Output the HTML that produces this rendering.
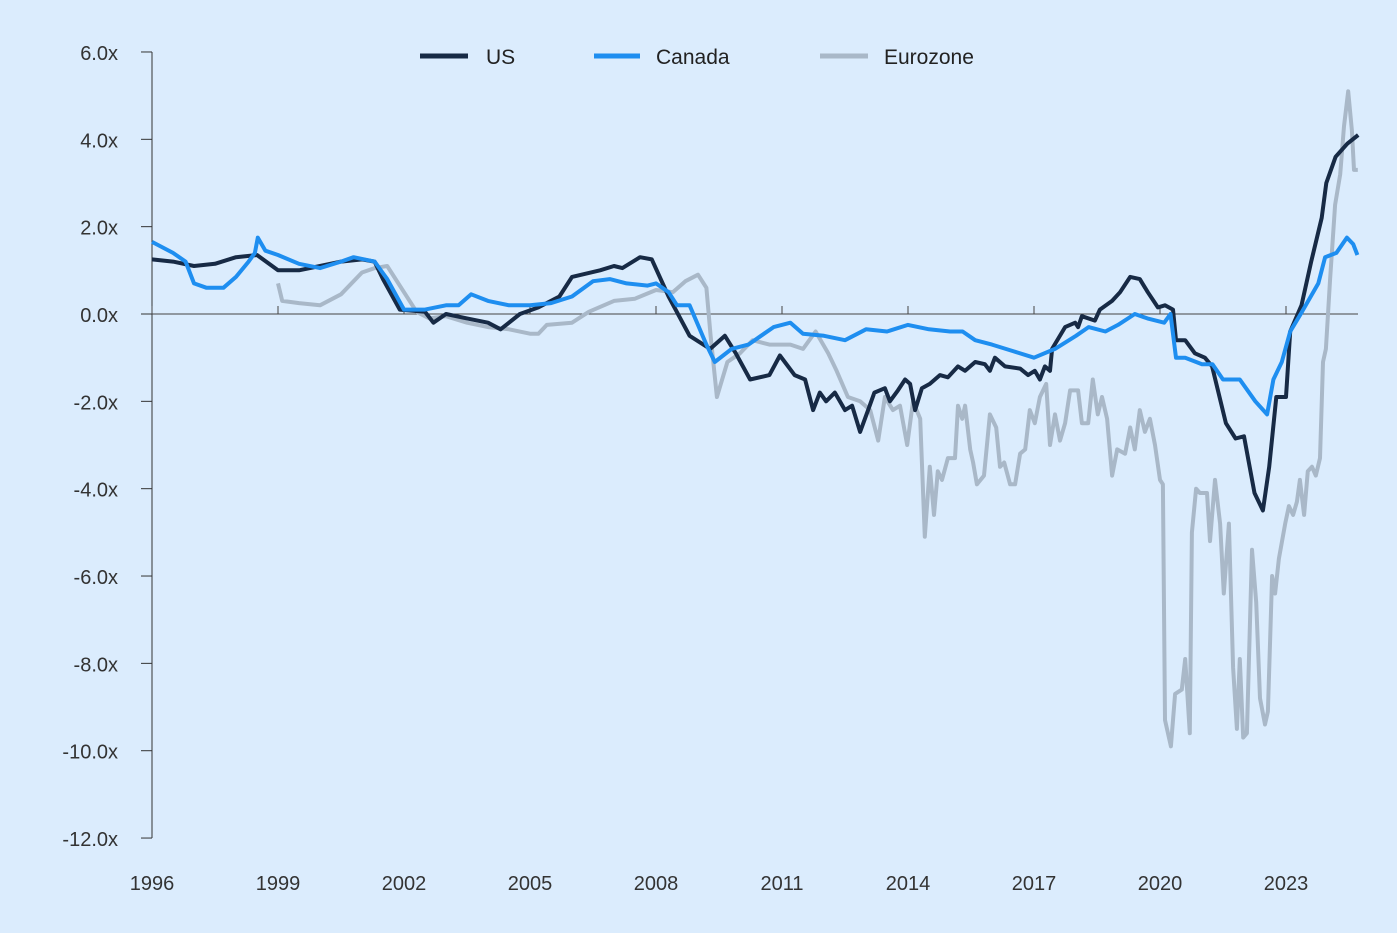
<!DOCTYPE html>
<html><head><meta charset="utf-8"><style>
body{margin:0;background:#dbecfd;}
svg{display:block;font-family:"Liberation Sans",sans-serif;}
</style></head><body>
<svg id="chart" width="1397" height="933" xmlns="http://www.w3.org/2000/svg">
<rect width="1397" height="933" fill="#dbecfd"/>
<g id="axes"></g><g id="series"></g>
<g>
<g><line x1="420" y1="56" x2="468" y2="56" stroke="#172a45" stroke-width="5"/><text x="486" y="64" font-size="21" fill="#222">US</text></g>
<g><line x1="594" y1="56" x2="640" y2="56" stroke="#1e8ef0" stroke-width="5"/><text x="656" y="64" font-size="21" fill="#222">Canada</text></g>
<g><line x1="820" y1="56" x2="868" y2="56" stroke="#a9b8c8" stroke-width="5"/><text x="884" y="64" font-size="21" fill="#222">Eurozone</text></g>
</g>
</svg>
<script>
const yTicks=[6,4,2,0,-2,-4,-6,-8,-10,-12];
const xTicks=[1996,1999,2002,2005,2008,2011,2014,2017,2020,2023];
const usYears=[1996,1996.5,1997,1997.5,1998,1998.5,1999,1999.5,2000,2000.5,2001,2001.3,2001.5,2001.9,2002.5,2002.7,2003,2003.5,2004,2004.3,2004.76,2005.2,2005.7,2006.0,2006.67,2007.0,2007.2,2007.62,2007.9,2008.3,2008.8,2009.29,2009.64,2009.9,2010.24,2010.7,2010.95,2011.3,2011.55,2011.74,2011.9,2012.05,2012.26,2012.5,2012.67,2012.86,2013.05,2013.2,2013.45,2013.57,2013.76,2013.93,2014.05,2014.17,2014.33,2014.52,2014.76,2014.95,2015.19,2015.36,2015.6,2015.83,2015.95,2016.07,2016.31,2016.67,2016.86,2017.02,2017.14,2017.26,2017.38,2017.43,2017.74,2017.98,2018.05,2018.14,2018.45,2018.57,2018.86,2019.05,2019.29,2019.52,2019.71,2019.95,2020.12,2020.31,2020.38,2020.6,2020.83,2021.07,2021.24,2021.57,2021.8,2022.0,2022.25,2022.45,2022.6,2022.77,2023.0,2023.1,2023.37,2023.6,2023.85,2023.96,2024.18,2024.46,2024.72];
const usValues=[1.25,1.2,1.1,1.15,1.3,1.35,1.0,1.0,1.1,1.2,1.25,1.2,0.8,0.1,0.05,-0.2,0.0,-0.1,-0.2,-0.35,0.0,0.15,0.4,0.85,1.0,1.1,1.05,1.3,1.25,0.4,-0.5,-0.8,-0.5,-0.9,-1.5,-1.4,-0.95,-1.4,-1.5,-2.2,-1.8,-2.0,-1.8,-2.2,-2.1,-2.7,-2.2,-1.8,-1.7,-2.0,-1.75,-1.5,-1.6,-2.2,-1.7,-1.6,-1.4,-1.45,-1.2,-1.3,-1.1,-1.15,-1.3,-1.0,-1.2,-1.25,-1.4,-1.3,-1.5,-1.2,-1.3,-0.8,-0.3,-0.2,-0.3,-0.05,-0.15,0.1,0.3,0.5,0.85,0.8,0.5,0.15,0.2,0.1,-0.6,-0.6,-0.9,-1.0,-1.2,-2.5,-2.85,-2.8,-4.1,-4.5,-3.5,-1.9,-1.9,-0.4,0.2,1.2,2.2,3.0,3.6,3.9,4.1];
const caYears=[1996,1996.5,1996.8,1997,1997.3,1997.7,1998,1998.3,1998.45,1998.52,1998.7,1999,1999.5,2000,2000.5,2000.8,2001.3,2001.6,2002,2002.5,2003,2003.3,2003.6,2004,2004.5,2005,2005.5,2006,2006.5,2006.9,2007.3,2007.8,2008,2008.3,2008.5,2008.8,2009.2,2009.4,2009.8,2010.2,2010.5,2010.8,2011.2,2011.5,2012,2012.5,2012.8,2013,2013.5,2014,2014.5,2015,2015.3,2015.6,2016,2016.5,2017,2017.5,2018,2018.3,2018.7,2019,2019.4,2019.7,2020.1,2020.25,2020.38,2020.6,2021.0,2021.25,2021.5,2021.9,2022.27,2022.55,2022.7,2022.9,2023.1,2023.35,2023.77,2023.93,2024.2,2024.45,2024.6,2024.7];
const caValues=[1.65,1.4,1.2,0.7,0.6,0.6,0.85,1.2,1.4,1.75,1.45,1.35,1.15,1.05,1.2,1.3,1.2,0.8,0.1,0.1,0.2,0.2,0.45,0.3,0.2,0.2,0.25,0.4,0.75,0.8,0.7,0.65,0.7,0.5,0.2,0.2,-0.7,-1.1,-0.8,-0.7,-0.5,-0.3,-0.2,-0.45,-0.5,-0.6,-0.45,-0.35,-0.4,-0.25,-0.35,-0.4,-0.4,-0.6,-0.7,-0.85,-1.0,-0.8,-0.5,-0.3,-0.4,-0.25,0.0,-0.1,-0.2,0.0,-1.0,-1.0,-1.15,-1.15,-1.5,-1.5,-2.0,-2.3,-1.5,-1.1,-0.4,0.0,0.7,1.3,1.4,1.75,1.6,1.35];
const euYears=[1999.0,1999.1,1999.5,2000,2000.5,2001,2001.3,2001.6,2002,2002.3,2002.6,2003,2003.5,2004,2004.5,2005,2005.2,2005.4,2006,2006.4,2007,2007.5,2008,2008.4,2008.7,2009,2009.2,2009.3,2009.45,2009.7,2010,2010.3,2010.7,2011.2,2011.5,2011.8,2012.1,2012.3,2012.57,2012.86,2013.10,2013.29,2013.45,2013.64,2013.81,2013.98,2014.12,2014.29,2014.40,2014.52,2014.62,2014.71,2014.81,2014.95,2015.12,2015.19,2015.29,2015.36,2015.48,2015.55,2015.64,2015.81,2015.95,2016.10,2016.19,2016.29,2016.43,2016.55,2016.67,2016.79,2016.90,2017.02,2017.14,2017.29,2017.38,2017.50,2017.62,2017.74,2017.86,2018.05,2018.14,2018.29,2018.40,2018.52,2018.62,2018.74,2018.86,2018.98,2019.17,2019.29,2019.40,2019.52,2019.64,2019.76,2019.88,2020.00,2020.07,2020.12,2020.26,2020.36,2020.52,2020.60,2020.71,2020.76,2020.86,2020.95,2021.12,2021.19,2021.31,2021.43,2021.52,2021.64,2021.74,2021.83,2021.90,2021.98,2022.07,2022.19,2022.29,2022.38,2022.50,2022.57,2022.67,2022.74,2022.83,2022.98,2023.07,2023.17,2023.26,2023.33,2023.43,2023.52,2023.62,2023.71,2023.81,2023.88,2023.95,2024.05,2024.17,2024.29,2024.38,2024.48,2024.57,2024.62,2024.71];
const euValues=[0.7,0.3,0.25,0.2,0.45,0.95,1.05,1.1,0.5,0.05,-0.1,-0.05,-0.2,-0.3,-0.35,-0.45,-0.45,-0.25,-0.2,0.05,0.3,0.35,0.55,0.5,0.75,0.9,0.6,-0.5,-1.9,-1.1,-0.9,-0.6,-0.7,-0.7,-0.8,-0.4,-0.9,-1.3,-1.9,-2.0,-2.2,-2.9,-1.9,-2.2,-2.1,-3.0,-2.0,-2.4,-5.1,-3.5,-4.6,-3.6,-3.8,-3.3,-3.3,-2.1,-2.4,-2.1,-3.1,-3.4,-3.9,-3.7,-2.3,-2.6,-3.5,-3.4,-3.9,-3.9,-3.2,-3.1,-2.2,-2.5,-1.9,-1.6,-3.0,-2.3,-2.9,-2.5,-1.75,-1.75,-2.5,-2.5,-1.5,-2.3,-1.9,-2.4,-3.7,-3.1,-3.2,-2.6,-3.1,-2.2,-2.7,-2.4,-3.0,-3.8,-3.9,-9.3,-9.9,-8.7,-8.6,-7.9,-9.6,-5.0,-4.0,-4.1,-4.1,-5.2,-3.8,-4.8,-6.4,-4.8,-8.1,-9.5,-7.9,-9.7,-9.6,-5.4,-6.6,-8.8,-9.4,-9.1,-6.0,-6.4,-5.6,-4.8,-4.4,-4.6,-4.3,-3.8,-4.6,-3.6,-3.5,-3.7,-3.3,-1.1,-0.8,0.8,2.5,3.2,4.3,5.1,4.2,3.3,3.3];

const NS='http://www.w3.org/2000/svg';
const X=y=>152+(y-1996)*42;
const Y=v=>314-v*43.67;
const axes=document.getElementById('axes'),ser=document.getElementById('series');
function mk(tag,attrs,parent){const e=document.createElementNS(NS,tag);for(const k in attrs)e.setAttribute(k,attrs[k]);parent.appendChild(e);return e;}
const ax=mk('line',{x1:152,y1:Y(6),x2:152,y2:Y(-12),stroke:'#333','stroke-width':1},axes);


const zl=mk('line',{x1:152,y1:Y(0),x2:1358,y2:Y(0),stroke:'#444','stroke-width':1},axes);


yTicks.forEach(v=>{
  mk('line',{x1:141,y1:Y(v),x2:152,y2:Y(v),stroke:'#333','stroke-width':1},axes);
  const t=mk('text',{x:118,y:Y(v)+8,'text-anchor':'end','font-size':20,fill:'#333'},axes);
  t.textContent=v.toFixed(1)+'x';
  
  
});
xTicks.forEach(yr=>{
  mk('line',{x1:X(yr),y1:Y(0),x2:X(yr),y2:Y(0)-8,stroke:'#444','stroke-width':1},axes);
  const t=mk('text',{x:X(yr),y:890,'text-anchor':'middle','font-size':20,fill:'#333'},axes);
  t.textContent=yr;
  
  
});
function line(xs,vs,color,name){
  const d=xs.map((x,i)=>(i?'L':'M')+X(x).toFixed(1)+','+Y(vs[i]).toFixed(1)).join('');
  const p=mk('path',{d:d,fill:'none',stroke:color,'stroke-width':4,'stroke-linejoin':'round'},ser);
  
  
}
line(euYears,euValues,'#a9b8c8','eurozone-line');
line(usYears,usValues,'#172a45','us-line');
line(caYears,caValues,'#1e8ef0','canada-line');
</script>
</body></html>
